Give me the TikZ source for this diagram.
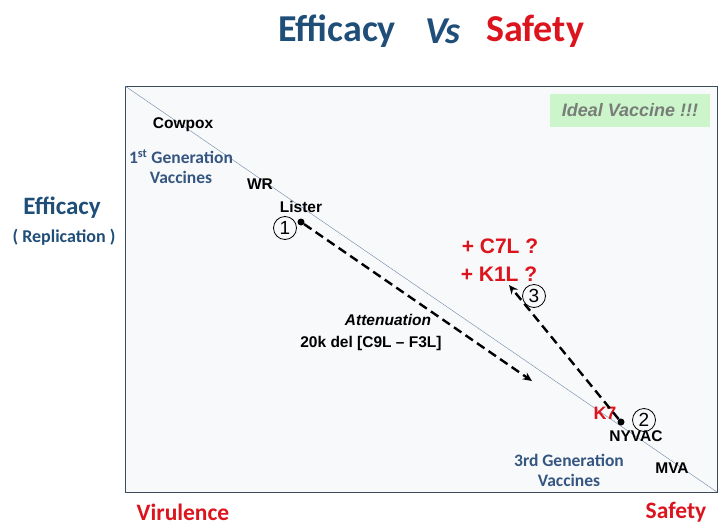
\documentclass[tikz,border=0pt]{standalone}
\usepackage{fontspec}
\setmainfont{Liberation Sans}
\newfontfamily\titlefont{Carlito}
\usetikzlibrary{arrows.meta, positioning}
\definecolor{mydarkblue1}{RGB}{31, 78, 121}
\definecolor{mygenblue}{RGB}{52, 86, 128}
\definecolor{myred1}{RGB}{220, 20, 30}
\definecolor{mylinegray}{RGB}{110, 135, 165}
\definecolor{myboxedge}{RGB}{60, 75, 95}
\definecolor{myboxfill}{RGB}{248, 249, 251}
\definecolor{myidealgreen}{RGB}{204, 245, 204}
\definecolor{myidealtext}{RGB}{120, 125, 120}

\begin{document}
\begin{tikzpicture}[x=1pt, y=-1pt,
    strain/.style={font=\bfseries\fontsize{15.5}{18}\selectfont, inner sep=1pt},
    gen/.style={font=\titlefont\bfseries\fontsize{17.5}{20}\selectfont, text=mygenblue, align=center, inner sep=1pt},
    gene/.style={font=\bfseries\fontsize{21}{23}\selectfont, text=myred1, inner sep=1pt},
    stepno/.style={draw, circle, thick, minimum size=23pt, inner sep=0pt, font=\fontsize{19}{19}\selectfont},
    dot/.style={circle, fill=black, minimum size=7pt, inner sep=0pt},
    route/.style={dashed, line width=2.4pt, dash pattern=on 9pt off 5pt, -{Stealth[length=9pt, width=8pt]}}]
\useasboundingbox (0,0) rectangle (720,530);
% Frame and diagonal
\draw[myboxedge, fill=myboxfill] (125,86) rectangle (717,492);
\coordinate (topleft) at (125,86);
\coordinate (botright) at (717,492);
\draw[mylinegray, thin] (topleft) -- (botright);
% Title and axis labels
\node[font=\titlefont\bfseries\fontsize{38}{40}\selectfont, text=mydarkblue1] (ttl eff) at (337,31) {Efficacy};
\node[font=\titlefont\bfseries\itshape\fontsize{38}{40}\selectfont, text=mydarkblue1] (ttl vs) at (443,31) {Vs};
\node[font=\titlefont\bfseries\fontsize{38}{40}\selectfont, text=myred1] (ttl saf) at (535,31) {Safety};
\node[font=\titlefont\bfseries\fontsize{25}{27}\selectfont, text=mydarkblue1] (yaxis) at (62,208) {Efficacy};
\node[font=\titlefont\bfseries\fontsize{18}{20}\selectfont, text=mydarkblue1] (yaxis sub) at (64,237) {( Replication )};
\node[font=\titlefont\bfseries\fontsize{23.5}{25}\selectfont, text=myred1] (virulence) at (183,512) {Virulence};
\node[font=\titlefont\bfseries\fontsize{23.5}{25}\selectfont, text=myred1] (safety) at (676,512) {Safety};
% Ideal corner
\node[fill=myidealgreen, minimum width=160pt, minimum height=33pt, font=\bfseries\itshape\fontsize{18}{20}\selectfont, text=myidealtext] (ideal) at (630,110) {Ideal Vaccine !!!};
% Strains
\node[strain] (cowpox) at (183,125) {Cowpox};
\node[gen] (gen1) at (181,167) {1\textsuperscript{st} Generation\\Vaccines};
\node[strain] (wr) at (260,184) {WR};
\node[strain] (lister) at (301,207) {Lister};
\node[dot] (lister dot) at (301,222) {};
\node[stepno] (one) at (285,228) {1};
\node[strain] (nyvac) at (636,436) {NYVAC};
\node[dot] (nyvac dot) at (621,422) {};
\node[stepno] (two) at (644,420) {2};
\node[gene, font=\bfseries\fontsize{18}{20}\selectfont] (k7) at (605,413) {K7};
\node[strain] (mva) at (672,468) {MVA};
\node[gen] (gen3) at (569,470) {3rd Generation\\Vaccines};
% Attenuation route
\coordinate (att end) at (532,381);
\draw[route] (lister dot) -- (att end);
\node[strain, font=\bfseries\itshape\fontsize{15.5}{18}\selectfont] (att) at (388,320) {Attenuation};
\node[strain] (del) at (371,343) {20k del [C9L -- F3L]};
% Genes added back
\node[gene] (c7l) at (500,246) {+ C7L ?};
\node[gene] (k1l) at (499,274) {+ K1L ?};
\coordinate (back end) at (509,285);
\draw[route] (nyvac dot) -- (back end);
\node[stepno, fill=myboxfill] (three) at (534,296) {3};
\end{tikzpicture}
\end{document}
